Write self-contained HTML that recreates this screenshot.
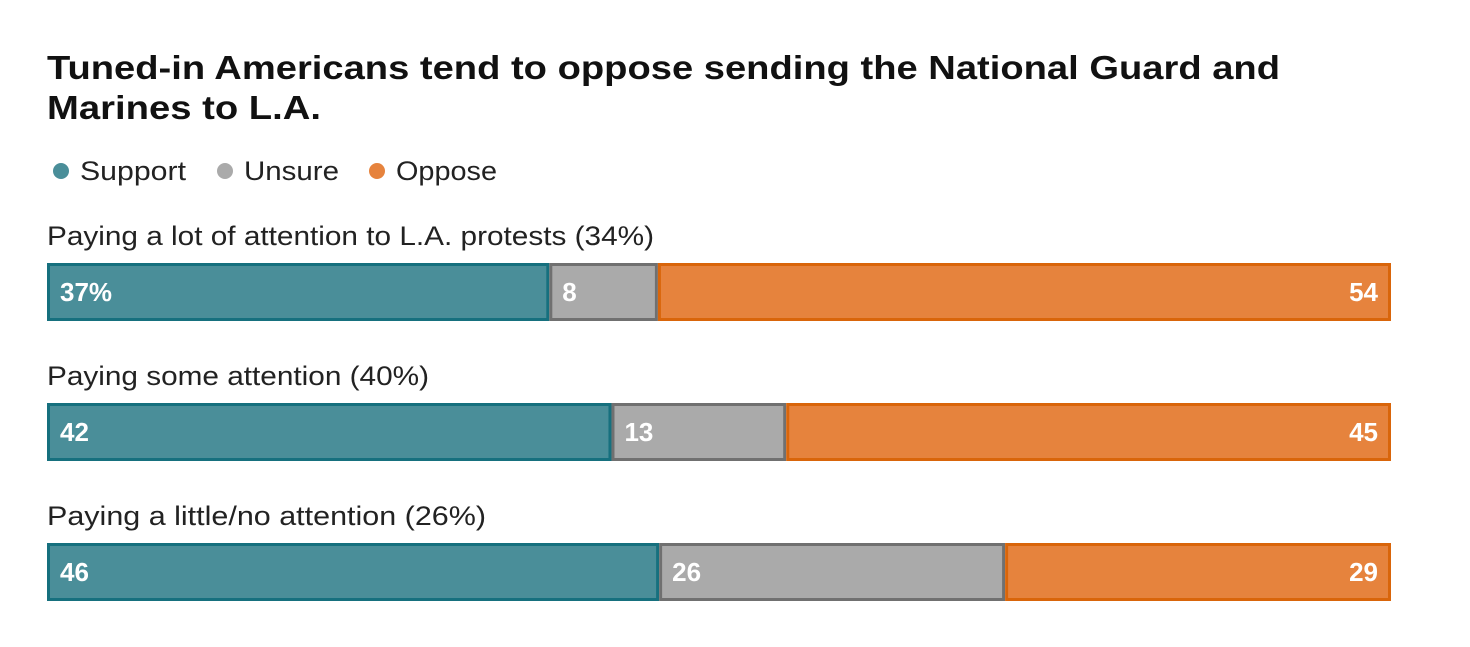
<!DOCTYPE html>
<html><head><meta charset="utf-8">
<style>
body{margin:0;background:#fff;width:1470px;height:642px;overflow:hidden;font-family:"Liberation Sans",sans-serif;}
</style></head>
<body>
<svg id="chart" width="1470" height="642" xmlns="http://www.w3.org/2000/svg">
<text x="47" y="79" font-size="33" font-weight="bold" fill="#111" textLength="1233" lengthAdjust="spacingAndGlyphs" font-family="Liberation Sans, sans-serif">Tuned-in Americans tend to oppose sending the National Guard and</text>
<text x="47" y="119" font-size="33" font-weight="bold" fill="#111" textLength="274" lengthAdjust="spacingAndGlyphs" font-family="Liberation Sans, sans-serif">Marines to L.A.</text>
<g font-size="27" fill="#222">
<circle cx="61" cy="171" r="8" fill="#4a8e99"/>
<text x="80" y="180" textLength="106" lengthAdjust="spacingAndGlyphs">Support</text>
<circle cx="225" cy="171" r="8" fill="#aaaaaa"/>
<text x="244" y="180" textLength="95" lengthAdjust="spacingAndGlyphs">Unsure</text>
<circle cx="377" cy="171" r="8" fill="#e6833d"/>
<text x="396" y="180" textLength="101" lengthAdjust="spacingAndGlyphs">Oppose</text>
</g>
<g id="bars"></g>
</svg>
<script>
const categories = ["Paying a lot of attention to L.A. protests (34%)", "Paying some attention (40%)", "Paying a little/no attention (26%)"];
const supportVals = [37, 42, 46];
const unsureVals = [8, 13, 26];
const opposeVals = [54, 45, 29];
const labelWidths = [607, 382, 439];

const X0 = 47, X1 = 1391, BAR_H = 58;
const rowTop = i => 263 + i * 140;
const ns = "http://www.w3.org/2000/svg";
const g = document.getElementById("bars");
const styles = [
  {fill:"#4a8e99", stroke:"#16707e", name:"support"},
  {fill:"#aaaaaa", stroke:"#707070", name:"unsure"},
  {fill:"#e6833d", stroke:"#d9650a", name:"oppose"}
];
categories.forEach((cat, i) => {
  const vals = [supportVals[i], unsureVals[i], opposeVals[i]];
  const total = vals.reduce((a, b) => a + b, 0);
  const xs = v => X0 + (X1 - X0) * v / total;
  const y = rowTop(i);
  const lab = document.createElementNS(ns, "text");
  
  
  lab.setAttribute("x", 47); lab.setAttribute("y", y - 18);
  lab.setAttribute("font-size", "27"); lab.setAttribute("fill", "#222");
  lab.setAttribute("textLength", labelWidths[i]);
  lab.setAttribute("lengthAdjust", "spacingAndGlyphs");
  lab.textContent = cat; g.appendChild(lab);
  let acc = 0;
  vals.forEach((v, k) => {
    const a = xs(acc), b = xs(acc + v); acc += v;
    const r = document.createElementNS(ns, "rect");
    
    
    r.setAttribute("x", a + 1.5); r.setAttribute("y", y + 1.5);
    r.setAttribute("width", b - a - 3); r.setAttribute("height", BAR_H - 3);
    r.setAttribute("fill", styles[k].fill); r.setAttribute("stroke", styles[k].stroke);
    r.setAttribute("stroke-width", 3);
    g.appendChild(r);
    const t = document.createElementNS(ns, "text");
    
    
    t.setAttribute("y", y + 38); t.setAttribute("font-size", "26");
    t.setAttribute("font-weight", "bold"); t.setAttribute("fill", "#fff");
    if (k === 2) { t.setAttribute("x", b - 13); t.setAttribute("text-anchor", "end"); }
    else t.setAttribute("x", a + 13);
    t.textContent = (i === 0 && k === 0) ? v + "%" : String(v);
    g.appendChild(t);
  });
});
</script>
</body></html>
